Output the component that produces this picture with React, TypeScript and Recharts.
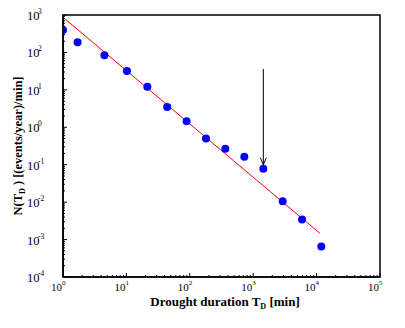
import { Label, ReferenceArea, ReferenceLine, Scatter, ScatterChart, XAxis, YAxis } from "recharts";

// drought duration [min] and rate of events
const durations = [1, 1.7, 4.5, 10.2, 21.4, 44, 89, 180, 363, 724, 1445, 2920, 5890, 11860];
const rates = [400, 186, 84, 32, 12.1, 3.5, 1.44, 0.505, 0.266, 0.163, 0.078, 0.0105, 0.00344, 0.00065];

// power-law fit, drawn between its two end points
const fitDurations = [1, 11300];
const fitRates = [870, 0.00146];

// arrow pointing at the outlier
const arrowDuration = 1445;
const arrowFrom = 36;
const arrowTo = 0.1;

const xDecades = [1, 10, 100, 1000, 10000, 100000];
const yDecades = [0.0001, 0.001, 0.01, 0.1, 1, 10, 100, 1000];
const xExponents = ["0", "1", "2", "3", "4", "5"];
const yExponents = ["-4", "-3", "-2", "-1", "0", "1", "2", "3"];

const minors = (decades: number[]) =>
  decades.slice(0, -1).flatMap((d) => [2, 3, 4, 5, 6, 7, 8, 9].map((m) => m * d));

const xTicks = [...xDecades, ...minors(xDecades)].sort((a, b) => a - b);
const yTicks = [...yDecades, ...minors(yDecades)].sort((a, b) => a - b);

const points = durations.map((x, i) => ({ x, y: rates[i] }));
const fit = fitDurations.map((x, i) => ({ x, y: fitRates[i] }));

const FONT = "'Liberation Serif', 'DejaVu Serif', serif";

const XTick = (props: any) => {
  const { x, y, payload } = props;
  const i = xDecades.indexOf(payload.value);
  const major = i >= 0;
  return (
    <g>
      <line x1={x} x2={x} y1={y} y2={y - (major ? 4 : 2)} stroke="#000" />
      {major && (
        <g fontFamily={FONT} fill="#000">
          <text x={x - 1} y={y + 14} fontSize={11} textAnchor="end">
            10
          </text>
          <text x={x - 1} y={y + 8} fontSize={7} textAnchor="start">
            {xExponents[i]}
          </text>
        </g>
      )}
    </g>
  );
};

const YTick = (props: any) => {
  const { x, y, payload } = props;
  const i = yDecades.indexOf(payload.value);
  const major = i >= 0;
  return (
    <g>
      <line x1={x} x2={x + (major ? 4 : 2)} y1={y} y2={y} stroke="#000" />
      {major && (
        <g fontFamily={FONT} fill="#000">
          <text x={x - 36} y={y + 5} fontSize={12.5}>
            10
          </text>
          <text x={x - 25} y={y - 1} fontSize={7.5}>
            {yExponents[i]}
          </text>
        </g>
      )}
    </g>
  );
};

const XTitle = () => (
  <text x={225} y={306} textAnchor="middle" fontFamily={FONT} fontWeight="bold" fontSize={13} fill="#000">
    Drought duration T
    <tspan fontSize={8} dy={3}>D</tspan>
    <tspan dy={-3}> [min]</tspan>
  </text>
);

const YTitle = () => (
  <text
    x={0}
    y={0}
    transform="translate(22, 146) rotate(-90)"
    textAnchor="middle"
    fontFamily={FONT}
    fontWeight="bold"
    fontSize={12.5}
    fill="#000"
  >
    N(T
    <tspan fontSize={8} dy={3}>D</tspan>
    <tspan dy={-3}> ) [(events/year)/min]</tspan>
  </text>
);

const Arrow = (props: any) => {
  const { x1, y1, x2, y2 } = props;
  const top = Math.min(y1, y2);
  const tip = Math.max(y1, y2);
  return (
    <g stroke="#000" fill="none">
      <line x1={x1} x2={x2} y1={top} y2={tip} />
      <polyline points={`${x2 - 3},${tip - 7} ${x2},${tip} ${x2 + 3},${tip - 7}`} />
    </g>
  );
};

const Dot = (props: any) => <circle cx={props.cx} cy={props.cy} r={4} fill="#0000ff" />;

const App = () => (
  <div style={{ position: "absolute", left: 0, top: 0, width: 405, height: 328, background: "#fff" }}>
    <ScatterChart width={405} height={328} margin={{ top: 15, right: 25, bottom: 0, left: 0 }}>
      <XAxis
        type="number"
        dataKey="x"
        scale="log"
        domain={[1, 100000]}
        ticks={xTicks}
        interval={0}
        allowDataOverflow
        height={51}
        tickSize={0}
        tickMargin={0}
        tickLine={false}
        tick={<XTick />}
        axisLine={{ stroke: "#000", strokeWidth: 1.5 }}
      >
        <Label content={<XTitle />} />
      </XAxis>
      <YAxis
        type="number"
        dataKey="y"
        scale="log"
        domain={[0.0001, 1000]}
        ticks={yTicks}
        interval={0}
        allowDataOverflow
        width={63}
        tickSize={0}
        tickMargin={0}
        tickLine={false}
        tick={<YTick />}
        axisLine={{ stroke: "#000", strokeWidth: 1.5 }}
      >
        <Label content={<YTitle />} />
      </YAxis>
      <ReferenceArea x1={1} x2={100000} y1={0.0001} y2={1000} fill="none" stroke="#000" strokeWidth={1.5} ifOverflow="visible" />
      <Scatter data={fit} line={{ stroke: "#ff0000", strokeWidth: 1 }} shape={() => <g />} isAnimationActive={false} />
      <Scatter data={points} shape={<Dot />} isAnimationActive={false} />
      <ReferenceLine
        segment={[
          { x: arrowDuration, y: arrowFrom },
          { x: arrowDuration, y: arrowTo },
        ]}
        shape={<Arrow />}
        ifOverflow="visible"
      />
    </ScatterChart>
  </div>
);

export default App;
